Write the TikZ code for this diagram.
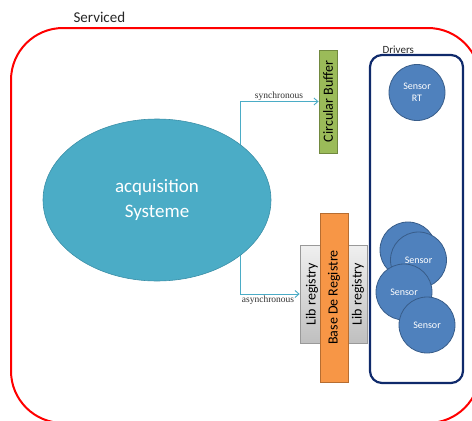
\documentclass[tikz,border=0pt]{standalone}
\usepackage{fontspec}
\setmainfont{Carlito}
\newfontfamily\labelserif{Liberation Serif}
\usetikzlibrary{shapes.geometric,backgrounds,arrows.meta}
\definecolor{acqfill}{HTML}{4BACC6}
\definecolor{acqline}{HTML}{3B8FA7}
\definecolor{connblue}{HTML}{4BACC6}
\definecolor{greenfill}{HTML}{9BBB59}
\definecolor{greenline}{HTML}{71893F}
\definecolor{orangefill}{HTML}{F79646}
\definecolor{orangeline}{HTML}{B66D31}
\definecolor{sensorfill}{HTML}{4F81BD}
\definecolor{sensorline}{HTML}{385D8A}
\definecolor{navyline}{HTML}{0F2A6B}
\definecolor{labeltext}{HTML}{333333}
\begin{document}
\begin{tikzpicture}[x=1pt,y=-1pt,
  conn/.style={draw=connblue,line width=0.9pt,-{Straight Barb[length=4pt,width=7pt]}},
  sensorbox/.style={circle,draw=sensorline,line width=0.8pt,fill=sensorfill,minimum size=56pt,inner sep=0pt,text=white,align=center,font=\fontsize{10}{12}\selectfont},
  rotlabel/.style={rotate=90,font=\fontsize{14}{16}\selectfont},
  smalllabel/.style={font=\labelserif\fontsize{9.5}{11}\selectfont,text=labeltext}
]
\useasboundingbox (0,0) rectangle (472,421);
\begin{scope}
  \clip (0,0) rectangle (472,421);
  \node[draw=red,line width=2pt,rounded corners=52pt,minimum width=469pt,minimum height=395pt,inner sep=0pt] (serviced) at (245.5,225.5) {};
\end{scope}
\node[anchor=base west,font=\fontsize{15}{18}\selectfont,text=black!85] (servlabel) at (70,22.5) {Serviced};

% acquisition ellipse
\node[ellipse,fill=acqfill,draw=acqline,line width=0.6pt,minimum width=228pt,minimum height=162pt,inner sep=0pt,text=white,align=center,font=\fontsize{19}{25}\selectfont] (acq) at (157,200) {acquisition\\Systeme};

% circular buffer
\node[draw=greenline,line width=0.8pt,fill=greenfill,minimum width=18pt,minimum height=103pt,inner sep=0pt,font=\fontsize{14}{16}\selectfont] (cb) at (328,101.5) {\rotatebox{90}{Circular Buffer}};

% lib registry box
\node[draw=black!40,line width=0.7pt,top color=black!6,bottom color=black!25,minimum width=67pt,minimum height=98pt,inner sep=0pt] (lib) at (333.5,294) {};
\node[rotlabel] (libtxtl) at (312,294) {Lib registry};
\node[rotlabel] (libtxtr) at (358,294) {Lib registry};

% base de registre
\node[draw=orangeline,line width=0.8pt,fill=orangefill,minimum width=28pt,minimum height=169pt,inner sep=0pt,font=\fontsize{14}{16}\selectfont] (bdr) at (334,297.5) {\rotatebox{90}{Base De Registre}};

% connectors (behind the ellipse)
\coordinate (split) at (240,200);
\begin{scope}[on background layer]
  \draw[conn] (split) |- (cb.west);
  \draw[conn] (split) |- (lib.west);
\end{scope}
\node[smalllabel] (synclab) at (279,96) {synchronous};
\node[smalllabel] (asynclab) at (268,300) {asynchronous};

% drivers
\node[draw=navyline,line width=2.2pt,rounded corners=12pt,minimum width=93pt,minimum height=328pt,inner sep=0pt] (drivers) at (416.5,219) {};
\node[anchor=base west,font=\fontsize{11}{13}\selectfont,text=black!85] (drvlabel) at (379,53.5) {Drivers};

\node[sensorbox] (sensorrt) at (417,92.5) {Sensor\\RT};
\node[sensorbox] (sensora) at (408,250) {};
\node[sensorbox] (sensorb) at (418.5,260) {Sensor};
\node[sensorbox] (sensorc) at (404,292) {Sensor};
\node[sensorbox] (sensord) at (427,325) {Sensor};
\end{tikzpicture}
\end{document}
